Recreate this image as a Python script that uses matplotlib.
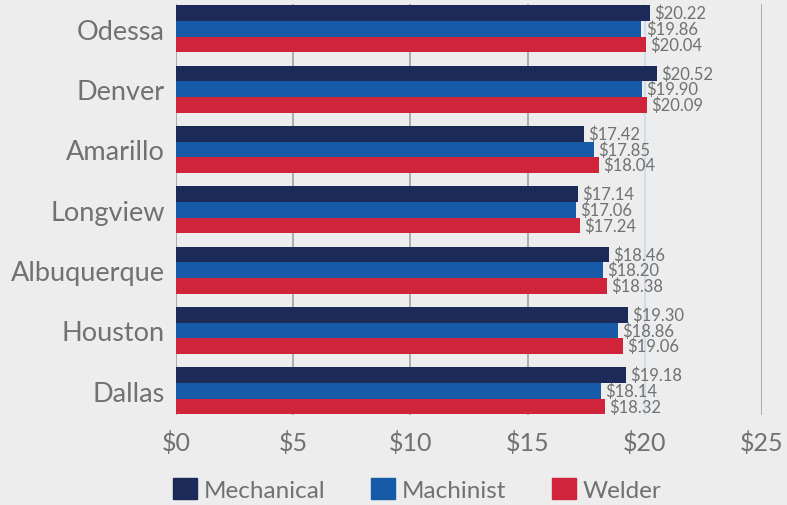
import matplotlib.pyplot as plt
import numpy as np
from matplotlib.patches import Patch

plt.rcParams['font.family'] = ['Lato', 'DejaVu Sans']

cities = ["Odessa", "Denver", "Amarillo", "Longview", "Albuquerque", "Houston", "Dallas"]
mechanical = [20.22, 20.52, 17.42, 17.14, 18.46, 19.30, 19.18]
machinist = [19.86, 19.90, 17.85, 17.06, 18.20, 18.86, 18.14]
welder = [20.04, 20.09, 18.04, 17.24, 18.38, 19.06, 18.32]

series = [("Mechanical", mechanical, "#1c2a57"),
          ("Machinist", machinist, "#165aa8"),
          ("Welder", welder, "#d0243a")]

bg = "#ecedec"
txt = "#707172"

fig = plt.figure(figsize=(7.87, 5.06), dpi=100, facecolor=bg)
ax = fig.add_axes([0.2236, 0.178, 0.9682 - 0.2236, 0.812])
ax.set_facecolor(bg)

y = np.arange(len(cities))
h = 0.26
for k, (name, vals, col) in enumerate(series):
    pos = y + (k - 1) * h
    ax.barh(pos, vals, height=h, color=col, zorder=3, label=name)
    for p, v in zip(pos, vals):
        ax.annotate(f"${v:.2f}", (v, p), xytext=(3, 0), textcoords="offset points",
                    va="center", ha="left", fontsize=12, color=txt, zorder=4)

ax.set_xlim(0, 25)
ax.set_ylim(len(cities) - 1 + 0.40, -0.41)
ax.set_xticks([0, 5, 10, 15, 20, 25])
ax.set_xticklabels([f"${t}" for t in [0, 5, 10, 15, 20, 25]])
ax.set_yticks(y)
ax.set_yticklabels(cities)
ax.tick_params(axis='x', length=0, pad=11, labelsize=18, labelcolor=txt)
ax.tick_params(axis='y', length=0, pad=8, labelsize=19.5, labelcolor=txt)
for t in [0, 5, 10, 15, 25]:
    ax.axvline(t, color="#9a9a9a", lw=1.1, zorder=1)
ax.axvline(20, color="#c9d7ea", lw=1.1, zorder=1)
for s in ax.spines.values():
    s.set_visible(False)

handles = [Patch(color=c) for _, _, c in series]
fig.legend(handles, [n for n, _, _ in series], loc="center", bbox_to_anchor=(0.53, 0.031),
           ncol=3, frameon=False, fontsize=17.5, labelcolor=txt,
           handlelength=1.0, handleheight=1.0, handletextpad=0.25, columnspacing=1.9)

fig.savefig("out.png", dpi=100, facecolor=bg)
